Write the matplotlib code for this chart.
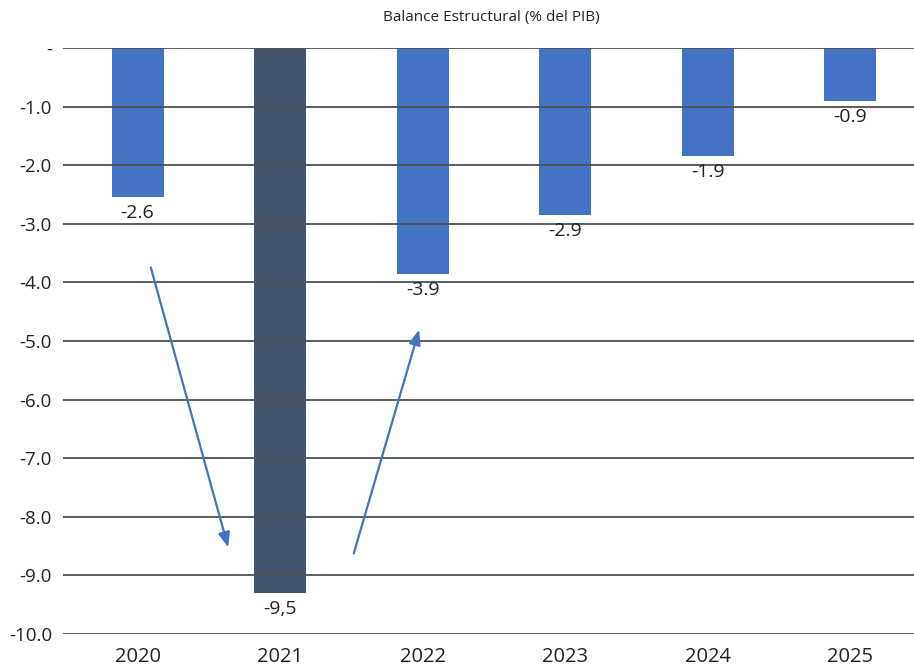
import matplotlib
matplotlib.use("Agg")
import matplotlib.pyplot as plt

years = ["2020", "2021", "2022", "2023", "2024", "2025"]
values = [-2.55, -9.3, -3.85, -2.85, -1.85, -0.9]
labels = ["-2.6", "-9,5", "-3.9", "-2.9", "-1.9", "-0.9"]
yticks = [0, -1, -2, -3, -4, -5, -6, -7, -8, -9, -10]
ytick_labels = ["-", "-1.0", "-2.0", "-3.0", "-4.0", "-5.0", "-6.0", "-7.0", "-8.0", "-9.0", "-10.0"]
colors = ["#4472C4", "#44546A", "#4472C4", "#4472C4", "#4472C4", "#4472C4"]

plt.rcParams["font.family"] = ["Open Sans", "DejaVu Sans"]

fig = plt.figure(figsize=(9.14, 6.69), dpi=100)
W, H = 914, 669
ax = fig.add_axes([63 / W, 1 - 634 / H, (914 - 63) / W, (634 - 48) / H])

x = list(range(len(years)))
ax.bar(x, values, width=0.365, color=colors, zorder=1)

ax.set_ylim(-10, 0)
ax.set_xlim(-0.523, 5.449)
ax.set_yticks(yticks)
ax.set_yticklabels(ytick_labels, fontsize=13.5, color="#222222")
ax.set_xticks(x)
ax.set_xticklabels(years, fontsize=14.5, color="#222222")
ax.tick_params(axis="both", length=0)
ax.tick_params(axis="y", pad=8)
ax.tick_params(axis="x", pad=9)
for s in ax.spines.values():
    s.set_visible(False)
ax.grid(axis="y", color="#505050", linewidth=1.3, zorder=3)
ax.set_axisbelow(False)

for xi, v, lab in zip(x, values, labels):
    ax.annotate(lab, (xi, v), xytext=(0, -5), textcoords="offset points",
                ha="center", va="top", fontsize=14, color="#222222", zorder=4)

arrow_kw = dict(arrowstyle="-|>,head_length=0.9,head_width=0.35", color="#4472C4", lw=1.6)
ax.annotate("", xy=(0.642, -8.57), xytext=(0.088, -3.70), arrowprops=arrow_kw, zorder=5)
ax.annotate("", xy=(1.982, -4.76), xytext=(1.512, -8.67), arrowprops=arrow_kw, zorder=5)

fig.text(491 / W, 1 - 17 / H, "Balance Estructural (% del PIB)", ha="center", va="center",
         fontsize=11, color="#222222")

fig.savefig("out.png", dpi=100)
